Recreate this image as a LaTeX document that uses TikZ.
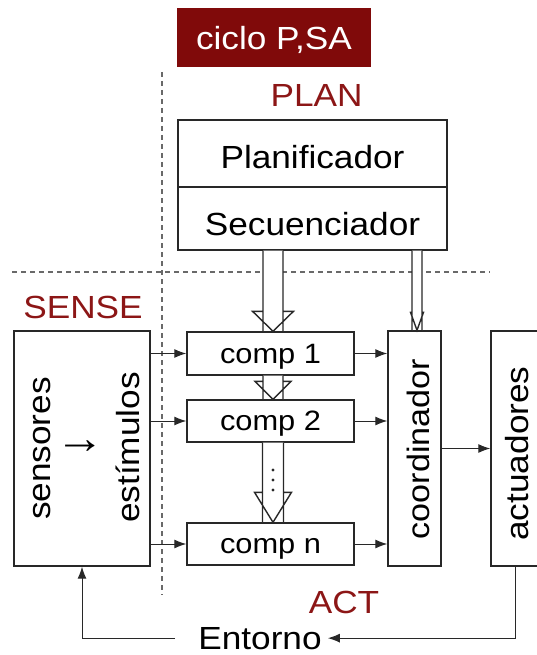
\documentclass[tikz,border=0pt]{standalone}
\usepackage{fontspec}
\setmainfont{Liberation Sans}[FakeStretch=1.1]
\usetikzlibrary{arrows.meta,calc}

\definecolor{titlered}{RGB}{128,10,10}
\definecolor{labelred}{RGB}{140,22,22}
\definecolor{linegray}{RGB}{40,40,40}
\definecolor{dashgray}{RGB}{105,105,105}

% hollow block arrow: #1 start node anchor, #2 tip, #3 shaft half width,
% #4 head half width, #5 head length
\newcommand\hollowarrow[5]{%
  \path[hollow] let \p1=(#1), \p2=(#2) in
    (\x2-#3,\y1) -- (\x2-#3,\y2+#5) -- (\x2-#4,\y2+#5) -- (\x2,\y2)
    -- (\x2+#4,\y2+#5) -- (\x2+#3,\y2+#5) -- (\x2+#3,\y1)
    (\x2-#3,\y2+#5) -- (\x2-#3,\y2)
    (\x2+#3,\y2+#5) -- (\x2+#3,\y2);}

\begin{document}
\begin{tikzpicture}[x=1pt,y=-1pt,
  big/.style={font=\fontsize{32}{38}\selectfont},
  box/.style={draw=linegray, line width=1.4pt, fill=white, inner sep=0pt},
  compbox/.style={box, minimum width=167pt, minimum height=42pt,
    font=\fontsize{28}{34}\selectfont, text height=20pt, text depth=1pt},
  tallbox/.style={box, minimum height=235pt},
  phase/.style={big, text=labelred, anchor=base, inner sep=0pt},
  vtext/.style={big, rotate=90, inner sep=0pt},
  arr/.style={draw=linegray, line width=1pt, -{Latex[length=12pt,width=9pt]}},
  sepline/.style={draw=dashgray, line width=1.4pt, dash pattern=on 5pt off 4pt},
  hollow/.style={draw=linegray, line width=1.4pt, line join=miter, fill=white}]

\useasboundingbox (0,0) rectangle (536,655);

% phase separators
\draw[sepline] (12,272) -- (490,272);
\draw[sepline] (162,72) -- (162,595);

% title and PLAN layer
\node[box, draw=none, fill=titlered, text=white, big, minimum width=194pt,
  minimum height=59pt, text height=25pt, text depth=0pt] (title) at (274,37.5) {ciclo P,SA};
\node[phase] (plan) at (316.5,107) {PLAN};
\node[box, big, minimum width=269pt, minimum height=67pt,
  text height=29pt, text depth=0pt] (plani) at (312.5,153.5) {Planificador};
\node[box, big, minimum width=269pt, minimum height=63pt,
  text height=33pt, text depth=0pt] (secu) at (312.5,218.5) {Secuenciador};

% SENSE block
\node[phase] (sense) at (83,318) {SENSE};
\node[tallbox, minimum width=136pt] (sens) at (82,448.5) {};
\node[vtext] (sensores) at (42.5,448.5) {sensores};
\node[inner sep=0pt, font=\fontsize{45}{50}\selectfont] (flow) at (80,447) {→};
\node[vtext] (estim) at (128,447.5) {estímulos};

% behaviour components
\node[compbox, minimum height=43pt] (c1) at (270.5,353.5) {comp 1};
\node[compbox] (c2) at (270.5,421) {comp 2};
\node[compbox] (cn) at (270.5,544) {comp n};

% coordinator and actuators
\node[tallbox, minimum width=53pt] (coord) at (414.5,448.5) {};
\node[vtext, font=\fontsize{31}{36}\selectfont] (coordt) at (418,449) {coordinador};
\node[tallbox, minimum width=48pt] (act) at (515,448.5) {};
\node[vtext] (actt) at (517.5,453.5) {actuadores};

\node[phase] (actp) at (344,613) {ACT};
\node[big, anchor=base, inner ysep=0pt, inner xsep=6pt] (env) at (260,649) {Entorno};

% plan-to-component block arrows
\hollowarrow{secu.south}{[xshift=2.5pt]c1.north}{10pt}{20.5pt}{20pt}
\hollowarrow{c1.south}{[xshift=2.5pt]c2.north}{10pt}{18pt}{18pt}
\hollowarrow{c2.south}{[xshift=2.5pt]cn.north}{10.5pt}{18.5pt}{30pt}
\hollowarrow{secu.south}{[xshift=2.5pt]coord.north}{5pt}{6.5pt}{18pt}
\fill[linegray] (273,470) circle (1.6pt) (273,480) circle (1.6pt) (273,490) circle (1.6pt);

% signal flow
\foreach \c in {c1,c2,cn} {
  \draw[arr] (sens.east |- \c.west) -- (\c.west);
  \draw[arr] (\c.east) -- (coord.west |- \c.east);
}
\draw[arr] (coord.east) -- (act.west |- coord.east);
\draw[arr] (act.south) |- (env.east);
\draw[arr] ([xshift=-17pt]env.west) -| (sens.south);
\end{tikzpicture}
\end{document}
